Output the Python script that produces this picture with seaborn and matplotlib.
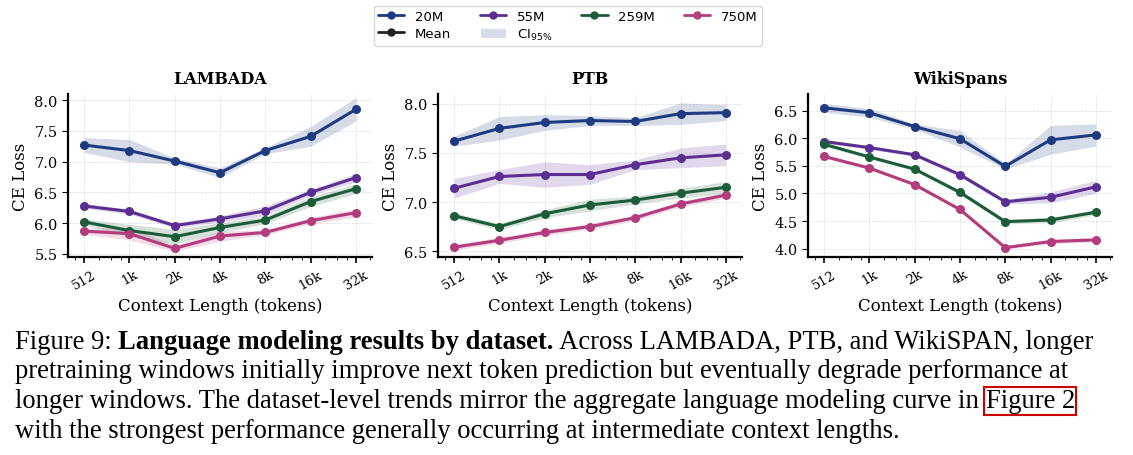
import numpy as np
import pandas as pd
import matplotlib
matplotlib.use("Agg")
import matplotlib.pyplot as plt
import matplotlib.ticker as mticker
import seaborn as sns
from matplotlib.lines import Line2D
from matplotlib.patches import Patch

sns.set_style("white")
plt.rcParams['font.family'] = ['DejaVu Serif']
plt.rcParams['text.color'] = 'black'
plt.rcParams['axes.labelcolor'] = 'black'
plt.rcParams['xtick.color'] = 'black'
plt.rcParams['ytick.color'] = 'black'

ctx = [512, 1024, 2048, 4096, 8192, 16384, 32768]
ctx_labels = ['512', '1k', '2k', '4k', '8k', '16k', '32k']
models = ['20M', '55M', '259M', '750M']
colors = ['#1f3a80', '#5b2e92', '#1c5c3a', '#b23c7c']

# means per dataset / model
lambada = {
    '20M': [7.27, 7.18, 7.01, 6.82, 7.18, 7.41, 7.85],
    '55M': [6.28, 6.19, 5.96, 6.07, 6.20, 6.50, 6.74],
    '259M': [6.02, 5.88, 5.78, 5.93, 6.05, 6.35, 6.56],
    '750M': [5.87, 5.83, 5.59, 5.79, 5.85, 6.04, 6.17],
}
lambada_ci = {
    '20M': [0.12, 0.18, 0.05, 0.08, 0.05, 0.16, 0.19],
    '55M': [0.04, 0.04, 0.04, 0.05, 0.08, 0.05, 0.07],
    '259M': [0.05, 0.10, 0.12, 0.08, 0.06, 0.08, 0.08],
    '750M': [0.05, 0.10, 0.05, 0.08, 0.04, 0.05, 0.07],
}
ptb = {
    '20M': [7.62, 7.75, 7.81, 7.83, 7.82, 7.90, 7.91],
    '55M': [7.14, 7.26, 7.28, 7.28, 7.38, 7.45, 7.48],
    '259M': [6.86, 6.75, 6.88, 6.97, 7.02, 7.09, 7.15],
    '750M': [6.54, 6.61, 6.69, 6.75, 6.84, 6.98, 7.07],
}
ptb_ci = {
    '20M': [0.05, 0.12, 0.08, 0.05, 0.04, 0.11, 0.08],
    '55M': [0.10, 0.07, 0.13, 0.10, 0.05, 0.10, 0.11],
    '259M': [0.03, 0.03, 0.04, 0.06, 0.04, 0.05, 0.06],
    '750M': [0.03, 0.03, 0.03, 0.03, 0.03, 0.03, 0.03],
}
wiki = {
    '20M': [6.55, 6.46, 6.21, 5.99, 5.49, 5.97, 6.06],
    '55M': [5.94, 5.83, 5.70, 5.34, 4.85, 4.93, 5.12],
    '259M': [5.89, 5.66, 5.44, 5.02, 4.49, 4.52, 4.66],
    '750M': [5.67, 5.46, 5.16, 4.71, 4.02, 4.13, 4.16],
}
wiki_ci = {
    '20M': [0.08, 0.08, 0.05, 0.15, 0.05, 0.26, 0.20],
    '55M': [0.03, 0.03, 0.03, 0.04, 0.04, 0.10, 0.12],
    '259M': [0.03, 0.03, 0.03, 0.04, 0.04, 0.05, 0.05],
    '750M': [0.03, 0.03, 0.03, 0.03, 0.03, 0.04, 0.04],
}
datasets = [('LAMBADA', lambada, lambada_ci, (5.45, 8.1), [5.5, 6.0, 6.5, 7.0, 7.5, 8.0]),
            ('PTB', ptb, ptb_ci, (6.44, 8.1), [6.5, 7.0, 7.5, 8.0]),
            ('WikiSpans', wiki, wiki_ci, (3.85, 6.8), [4.0, 4.5, 5.0, 5.5, 6.0, 6.5])]

fig = plt.figure(figsize=(11.33, 4.56), dpi=100)
lefts = [68 / 1133, 438 / 1133, 808 / 1133]
for (name, means, cis, ylim, yt), left in zip(datasets, lefts):
    ax = fig.add_axes([left, 1 - 258 / 456, 304 / 1133, 163 / 456])
    for m, c in zip(models, colors):
        df = pd.DataFrame({'ctx': ctx, 'loss': means[m]})
        lo = np.array(means[m]) - np.array(cis[m])
        hi = np.array(means[m]) + np.array(cis[m])
        ax.fill_between(ctx, lo, hi, color=c, alpha=0.18, lw=0)
        sns.lineplot(data=df, x='ctx', y='loss', ax=ax, color=c, lw=2.2,
                     marker='o', markersize=6.5, markeredgewidth=0)
    ax.set_xscale('log', base=2)
    ax.set_xticks(ctx)
    ax.set_xticklabels(ctx_labels, rotation=30, fontsize=9.5)
    ax.xaxis.set_minor_locator(mticker.LogLocator(base=2, subs=[1.25, 1.5, 1.75]))
    ax.xaxis.set_minor_formatter(mticker.NullFormatter())
    ax.set_xlim(400, 42000)
    ax.set_ylim(*ylim)
    ax.set_yticks(yt)
    ax.tick_params(axis='y', labelsize=10.5, left=True, length=4)
    ax.tick_params(axis='x', bottom=True, length=4, width=1.2)
    ax.tick_params(axis='x', which='minor', bottom=True, length=2)
    ax.grid(True, ls='--', lw=0.5, color='#dddddd')
    sns.despine(ax=ax)
    for s in ['left', 'bottom']:
        ax.spines[s].set_linewidth(1.6)
        ax.spines[s].set_color('black')
    ax.set_title(name, fontweight='bold', fontsize=11.5, pad=8)
    ax.set_xlabel('Context Length (tokens)', fontsize=12)
    ax.set_ylabel('CE Loss', fontsize=12)

handles = [Line2D([], [], color=colors[0], marker='o', lw=2, ms=5),
           Line2D([], [], color='#222222', marker='o', lw=2, ms=5),
           Line2D([], [], color=colors[1], marker='o', lw=2, ms=5),
           Patch(facecolor='#c8cde0', alpha=0.7),
           Line2D([], [], color=colors[2], marker='o', lw=2, ms=5),
           Line2D([], [], color=colors[3], marker='o', lw=2, ms=5)]
labels = ['20M', 'Mean', '55M', r'CI$_{95\%}$', '259M', '750M']
fig.legend(handles, labels, ncol=4, loc='upper center', bbox_to_anchor=(0.501, 1.0),
           frameon=True, handlelength=2, columnspacing=2.2,
           labelspacing=0.3, borderpad=0.3, prop={'family': 'DejaVu Sans', 'size': 9.5})

# caption
cap_font = dict(family='Liberation Serif', size=19.2, color='black')
lines = [
    [("Figure 9: ", 'normal'), ("Language modeling results by dataset.", 'bold'),
     (" Across LAMBADA, PTB, and WikiSPAN, longer", 'normal')],
    [("pretraining windows initially improve next token prediction but eventually degrade performance at", 'normal')],
    [("longer windows. The dataset-level trends mirror the aggregate language modeling curve in ", 'normal'),
     ("Figure 2", 'box')],
    [("with the strongest performance generally occurring at intermediate context lengths.", 'normal')],
]
fig.canvas.draw()
r = fig.canvas.get_renderer()
ys = [343, 372, 402, 432]
for parts, y in zip(lines, ys):
    x = 15
    for txt, style in parts:
        kw = dict(fontweight='bold' if style == 'bold' else 'normal', **cap_font)
        if style == 'box':
            kw['bbox'] = dict(facecolor='none', edgecolor='#cc0000', lw=1.5, pad=1)
        t = fig.text(x / 1133, 1 - y / 456, txt, va='center', ha='left', **kw)
        bb = t.get_window_extent(renderer=r)
        x += bb.width

fig.savefig('out.png', dpi=100)
